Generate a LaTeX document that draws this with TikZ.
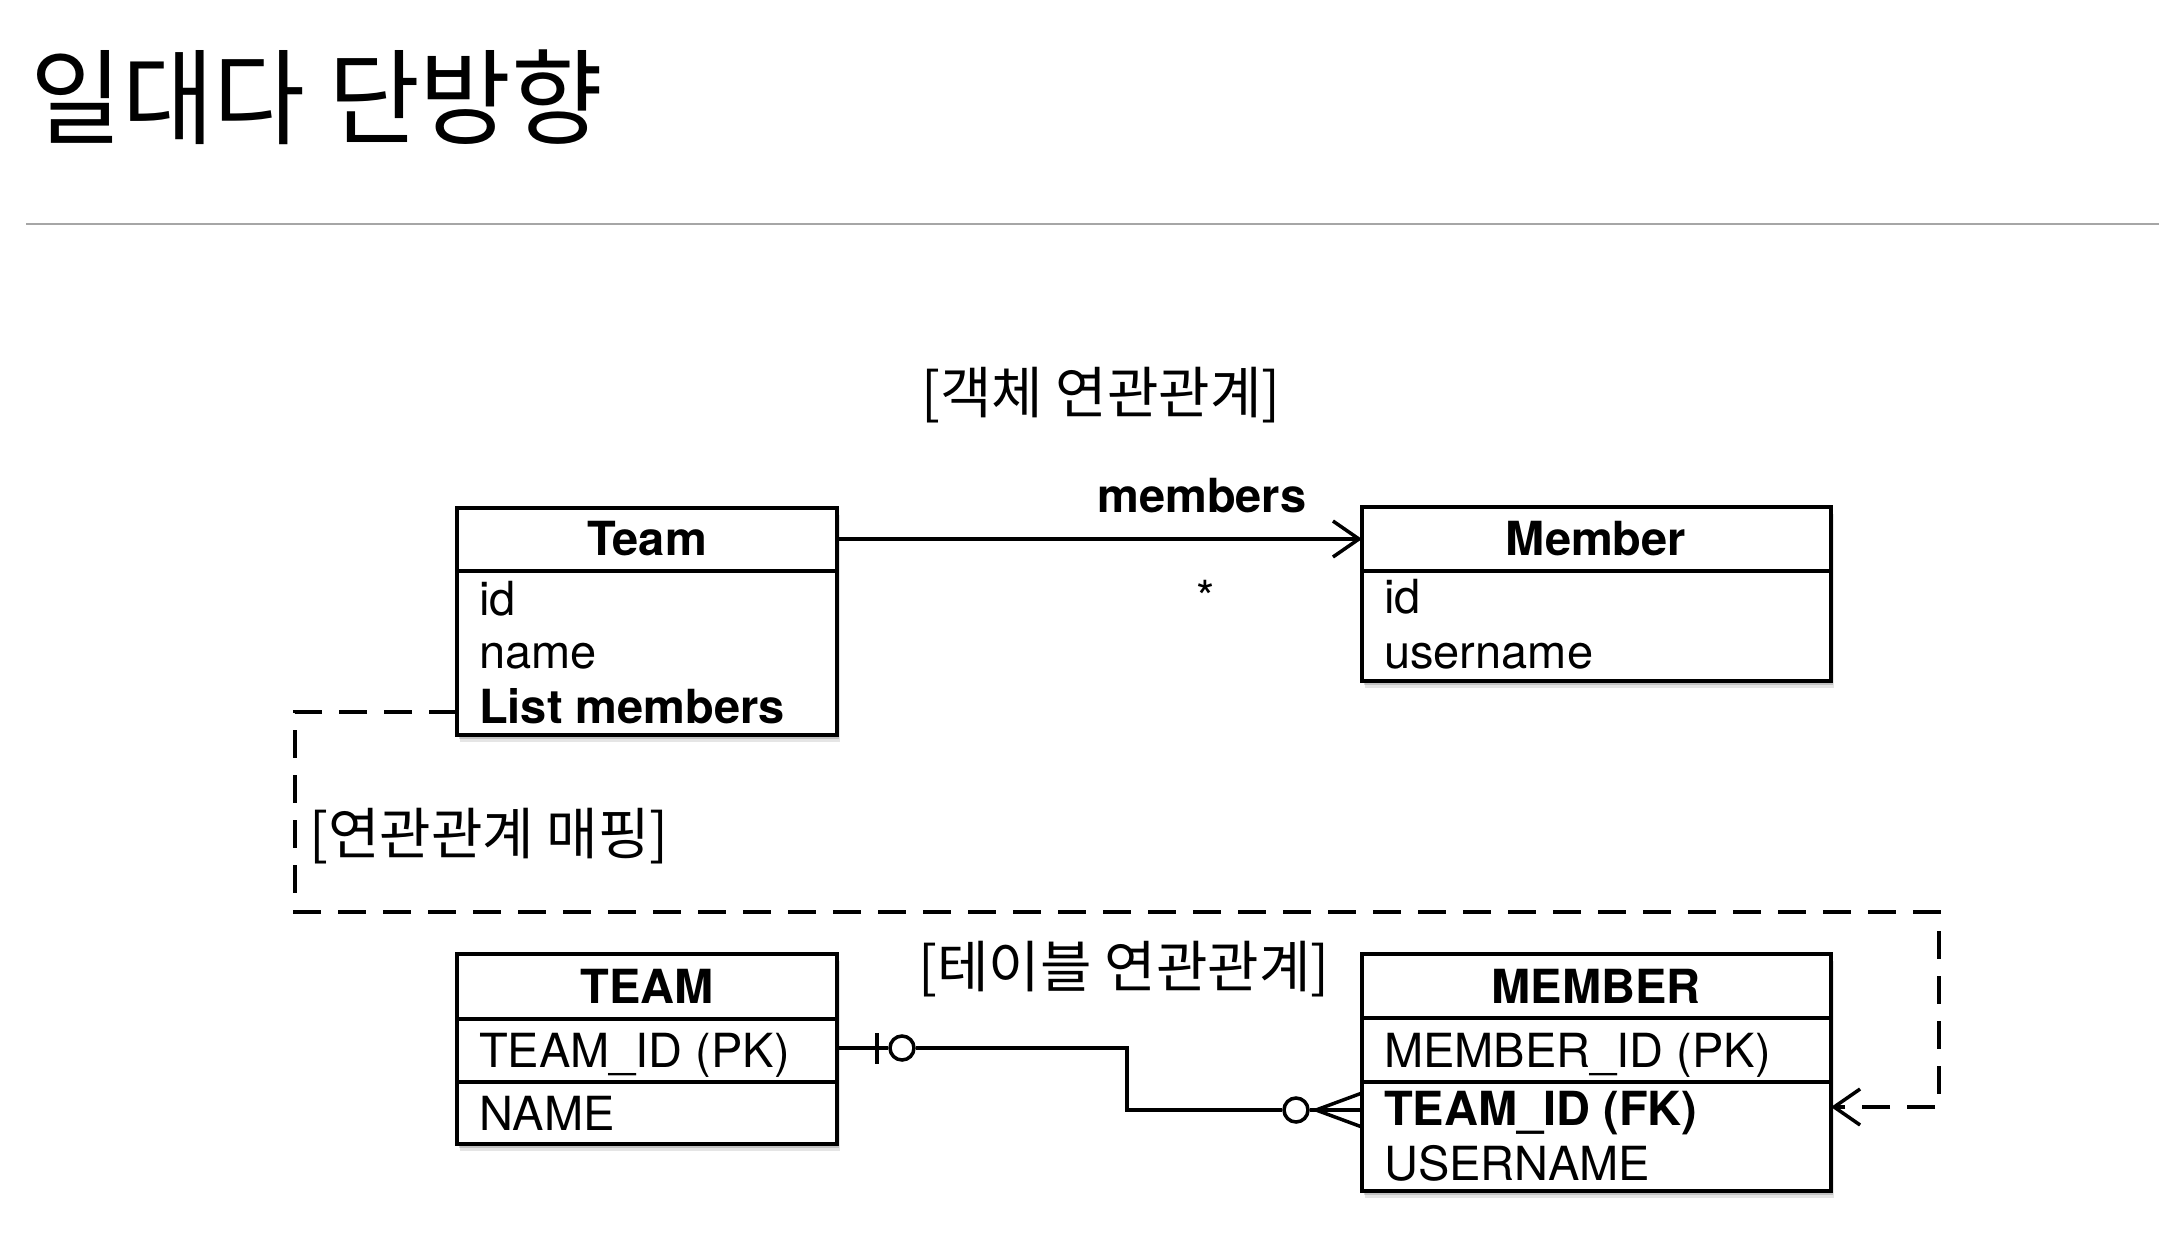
\documentclass[tikz,border=0pt]{standalone}
\usepackage{fontspec}
\setmainfont{TeX Gyre Heros}
\newfontfamily\kr{Noto Sans CJK KR}
\usetikzlibrary{arrows.meta}
\tikzset{
  umlbox/.style={draw=black, line width=3.5pt, fill=white, inner sep=0pt, outer sep=0pt,
    preaction={fill=black, opacity=0.10, transform canvas={xshift=3pt, yshift=-7pt}},
    preaction={fill=black, opacity=0.15, transform canvas={xshift=2pt, yshift=-4pt}}},
  sepline/.style={line width=3.5pt},
  txt/.style={inner sep=0pt, font=\fontsize{47}{47}\selectfont},
  btxt/.style={inner sep=0pt, font=\bfseries\fontsize{47}{47}\selectfont},
  krtxt/.style={inner sep=0pt, font=\kr\fontsize{56}{56}\selectfont},
  opentip/.style={-{Straight Barb[length=26pt, width=36pt, line width=3.5pt]}},
  assoc/.style={line width=3.5pt, opentip},
  mapline/.style={line width=3.5pt, dash pattern=on 28pt off 17pt, opentip},
  relline/.style={line width=3.5pt},
  endcircle/.style={circle, draw, line width=3.5pt, fill=white, minimum size=24pt, inner sep=0pt}
}
\begin{document}
\begin{tikzpicture}[x=1pt, y=-1pt]
\useasboundingbox[fill=white] (0,0) rectangle (2159,1253);

% title and rule
\node[anchor=base west, inner sep=0pt, font=\kr\fontsize{104}{104}\selectfont, xscale=0.96, transform shape] (title) at (30,136) {일대다 단방향};
\coordinate (ruleL) at (26,224);
\coordinate (ruleR) at (2159,224);
\draw[line width=2pt, color=black!35] (ruleL) -- (ruleR);

% object association
\node[krtxt, anchor=base] (objlabel) at (1101,413) {[객체 연관관계]};

\node[umlbox, minimum width=380pt, minimum height=227pt, anchor=north west] (team) at (457,508) {};
\draw[sepline] ([yshift=-63pt]team.north west) -- ([yshift=-63pt]team.north east);
\node[btxt, anchor=base] (teamtitle) at (647,555) {Team};
\node[txt, anchor=base west] (teamid) at (479,615) {id};
\node[txt, anchor=base west] (teamname) at (479,668) {name};
\node[btxt, anchor=base west] (teamlist) at (479,723) {List members};

\node[umlbox, minimum width=469pt, minimum height=174pt, anchor=north west] (member) at (1362,507) {};
\draw[sepline] ([yshift=-64pt]member.north west) -- ([yshift=-64pt]member.north east);
\node[btxt, anchor=base] (membertitle) at (1596,555) {Member};
\node[txt, anchor=base west] (memberid) at (1384,613) {id};
\node[txt, anchor=base west] (memberuser) at (1384,668) {username};

\draw[assoc] ([yshift=-31pt]team.north east) -- ([yshift=-32pt]member.north west);
\node[btxt, anchor=base] (memberslabel) at (1202,512) {members};
\node[txt, anchor=base] (star) at (1206,614) {*};

% mapping
\node[krtxt, anchor=base] (maplabel) at (489,854) {[연관관계 매핑]};
\node[krtxt, anchor=base] (tbllabel) at (1124,987) {[테이블 연관관계]};

% tables
\node[umlbox, minimum width=380pt, minimum height=190pt, anchor=north west] (TEAM) at (457,954) {};
\draw[sepline] ([yshift=-65pt]TEAM.north west) -- ([yshift=-65pt]TEAM.north east);
\draw[sepline] ([yshift=-128pt]TEAM.north west) -- ([yshift=-128pt]TEAM.north east);
\node[btxt, anchor=base] (TEAMtitle) at (647,1003) {TEAM};
\node[txt, anchor=base west] (TEAMid) at (479,1067) {TEAM\_ID (PK)};
\node[txt, anchor=base west] (TEAMname) at (479,1130) {NAME};

\node[umlbox, minimum width=469pt, minimum height=237pt, anchor=north west] (MEMBER) at (1362,954) {};
\draw[sepline] ([yshift=-64pt]MEMBER.north west) -- ([yshift=-64pt]MEMBER.north east);
\draw[sepline] ([yshift=-128pt]MEMBER.north west) -- ([yshift=-128pt]MEMBER.north east);
\node[btxt, anchor=base] (MEMBERtitle) at (1596,1003) {MEMBER};
\node[txt, anchor=base west] (MEMBERid) at (1384,1067) {MEMBER\_ID (PK)};
\node[btxt, anchor=base west] (MEMBERfk) at (1384,1125) {TEAM\_ID (FK)};
\node[txt, anchor=base west] (MEMBERuser) at (1384,1180) {USERNAME};

% mapping dashed line
\coordinate (mA) at (295,712);
\coordinate (mB) at (295,912);
\coordinate (mC) at (1939,912);
\coordinate (mD) at (1939,1107);
\draw[mapline] ([yshift=-204pt]team.north west) -- (mA) -- (mB) -- (mC) -- (mD) -- ([yshift=-153pt]MEMBER.north east);

% ER relationship
\node[endcircle] (c1) at (902,1048) {};
\node[endcircle] (c2) at (1296,1110) {};
\coordinate (bend1) at (1127,1048);
\coordinate (bend2) at (1127,1110);
\coordinate (foot) at (1316,1110);
\draw[relline] ([yshift=-94pt]TEAM.north east) -- (c1.west);
\draw[relline] (877,1033) -- (877,1064);
\draw[relline] (c1.east) -- (bend1) -- (bend2) -- (c2.west);
\draw[relline] (c2.east) -- ([yshift=-156pt]MEMBER.north west);
\draw[relline] (foot) -- ([yshift=-139pt]MEMBER.north west);
\draw[relline] (foot) -- ([yshift=-173pt]MEMBER.north west);
\end{tikzpicture}
\end{document}
